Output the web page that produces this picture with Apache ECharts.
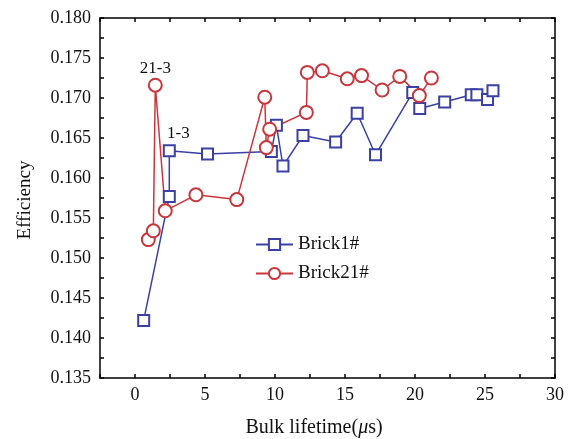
<!DOCTYPE html>
<html>
<head>
<meta charset="utf-8">
<script src="https://cdn.jsdelivr.net/npm/echarts@6/dist/echarts.min.js"></script>
<style>
  html, body { margin: 0; padding: 0; background: #fff; }
  #chart { width: 572px; height: 439px; }
</style>
</head>
<body>
<div id="chart"></div>
<script>
// Brick1# 数据 (x: 体寿命 μs, y: 效率)
var brick1X = [0.62, 2.45, 2.45, 5.18, 9.74, 10.1, 10.57, 12.0, 14.33, 15.87, 17.18, 19.84, 20.34, 22.12, 24.02, 24.42, 25.18, 25.57];
var brick1Y = [0.1422, 0.1577, 0.1634, 0.1630, 0.1633, 0.1666, 0.1615, 0.1653, 0.1645, 0.1681, 0.1629, 0.1707, 0.1687, 0.1695, 0.1704, 0.1704, 0.1698, 0.1709];
// Brick21# 数据
var brick21X = [0.95, 1.31, 1.45, 2.16, 4.35, 7.27, 9.27, 9.38, 9.62, 12.24, 12.31, 13.38, 15.16, 16.18, 17.65, 18.91, 20.31, 21.17];
var brick21Y = [0.1523, 0.1534, 0.1716, 0.1559, 0.1579, 0.1573, 0.1701, 0.1638, 0.1661, 0.1682, 0.1732, 0.1734, 0.1724, 0.1728, 0.1710, 0.1727, 0.1703, 0.1725];
// 标注
var noteBrick1 = { index: 2, text: '1-3' };
var noteBrick21 = { index: 2, text: '21-3' };

var seriesNames = ['Brick1#', 'Brick21#'];
var xRange = [-2.5, 30];
var yRange = [0.135, 0.18];

var font = 'Liberation Serif, Times New Roman, serif';
var blue = '#3a40a4';
var red = '#c9363c';

function buildData(xs, ys, note, labelOpt) {
    var out = [];
    for (var i = 0; i < xs.length; i++) {
        var item = { value: [xs[i], ys[i]] };
        if (note && i === note.index) {
            item.label = Object.assign({
                show: true,
                formatter: note.text,
                position: 'top',
                fontFamily: font,
                fontSize: 17,
                color: '#111'
            }, labelOpt);
        }
        out.push(item);
    }
    return out;
}

var baseX = {
    type: 'value',
    min: xRange[0],
    max: xRange[1],
    interval: 2.5,
    splitLine: { show: false },
    axisLine: { onZero: false, lineStyle: { color: '#000', width: 1.5 } },
    axisTick: { inside: true, length: 4, lineStyle: { color: '#000', width: 1.5 } }
};
var baseY = {
    type: 'value',
    min: yRange[0],
    max: yRange[1],
    interval: 0.005,
    splitLine: { show: false },
    axisLine: { onZero: false, lineStyle: { color: '#000', width: 1.5 } },
    axisTick: { inside: true, length: 4, lineStyle: { color: '#000', width: 1.5 } },
    minorTick: { show: true, splitNumber: 2, length: 4, lineStyle: { color: '#000', width: 1.5 } },
    minorSplitLine: { show: false }
};

var option = {
    backgroundColor: '#fff',
    animation: false,
    grid: { left: 100, right: 17, top: 18, bottom: 61 },
    xAxis: [
        Object.assign({}, baseX, {
            position: 'bottom',
            axisLabel: {
                margin: 8,
                fontFamily: font,
                fontSize: 18,
                color: '#111',
                formatter: function (v) { return v % 5 === 0 ? String(v) : ''; }
            }
        }),
        Object.assign({}, baseX, { position: 'top', axisLabel: { show: false } })
    ],
    yAxis: [
        Object.assign({}, baseY, {
            position: 'left',
            axisLabel: {
                margin: 9,
                fontFamily: font,
                fontSize: 18,
                color: '#111',
                formatter: function (v) { return v.toFixed(3); }
            }
        }),
        Object.assign({}, baseY, { position: 'right', axisLabel: { show: false } })
    ],
    legend: {
        orient: 'vertical',
        left: 250,
        top: 230,
        itemGap: 10,
        itemWidth: 37,
        itemHeight: 14,
        textStyle: { fontFamily: font, fontSize: 19, color: '#111' },
        data: seriesNames
    },
    graphic: [
        {
            type: 'text',
            x: 314,
            y: 428,
            style: {
                text: 'Bulk lifetime({i|μ}s)',
                font: '20px ' + font,
                fill: '#111',
                align: 'center',
                verticalAlign: 'middle',
                rich: { i: { fontFamily: font, fontSize: 20, fontStyle: 'italic', fill: '#111' } }
            }
        },
        {
            type: 'text',
            x: 25,
            y: 200,
            rotation: Math.PI / 2,
            style: {
                text: 'Efficiency',
                font: '19px ' + font,
                fill: '#111',
                align: 'center',
                verticalAlign: 'middle'
            }
        }
    ],
    series: [
        {
            name: seriesNames[0],
            type: 'line',
            xAxisIndex: 0,
            yAxisIndex: 0,
            symbol: 'rect',
            symbolSize: 11,
            color: blue,
            lineStyle: { color: blue, width: 1.5 },
            itemStyle: { color: '#fff', borderColor: blue, borderWidth: 2 },
            data: buildData(brick1X, brick1Y, noteBrick1, { offset: [9, 0], distance: 2 })
        },
        {
            name: seriesNames[1],
            type: 'line',
            xAxisIndex: 0,
            yAxisIndex: 0,
            symbol: 'circle',
            symbolSize: 13,
            color: red,
            lineStyle: { color: red, width: 1.5 },
            itemStyle: { color: '#fff', borderColor: red, borderWidth: 2 },
            data: buildData(brick21X, brick21Y, noteBrick21, { distance: 1 })
        }
    ]
};

var myChart = echarts.init(document.getElementById('chart'));
myChart.setOption(option);
</script>
</body>
</html>
